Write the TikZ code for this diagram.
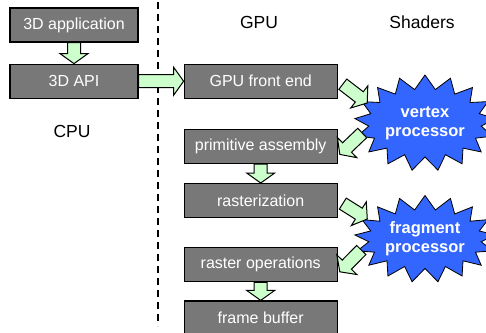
\documentclass[tikz,border=0pt]{standalone}
\usepackage{fontspec}
\setmainfont{Liberation Sans}
\usetikzlibrary{positioning,calc,shapes.symbols}

\definecolor{boxgray}{RGB}{120,120,120}
\definecolor{arrowgreen}{RGB}{204,255,204}
\definecolor{shaderblue}{RGB}{51,102,255}

\tikzset{
  stage/.style={draw,line width=1.2pt,fill=boxgray,text=white,minimum height=34pt,inner sep=2pt,font=\fontsize{16}{18}\selectfont},
  cpustage/.style={stage,minimum width=128pt},
  gpustage/.style={stage,minimum width=153pt},
  shader/.style={starburst,starburst points=17,starburst point height=14pt,random starburst=0,
    draw,line width=0.8pt,fill=shaderblue,text=white,align=center,inner sep=0pt,
    minimum width=121pt,minimum height=96pt,font=\fontsize{16.5}{19}\selectfont\bfseries},
  title/.style={font=\fontsize{17.5}{20}\selectfont},
  divider/.style={dashed,dash pattern=on 7pt off 5pt,line width=1.2pt},
  fat/.style={draw,line width=1pt,fill=arrowgreen,to path={
    let \p1=(\tikztostart), \p2=(\tikztotarget) in
    ($(\p1)!6.5pt!90:(\p2)$) --
    ($(\p2)!10pt!(\p1)!6.5pt!90:(\p2)$) --
    ($(\p2)!10pt!(\p1)!14pt!90:(\p2)$) --
    (\p2) --
    ($(\p2)!10pt!(\p1)!14pt!-90:(\p2)$) --
    ($(\p2)!10pt!(\p1)!6.5pt!-90:(\p2)$) --
    ($(\p1)!6.5pt!-90:(\p2)$) -- cycle}}
}

\begin{document}
\begin{tikzpicture}[x=1pt,y=-1pt]
    \useasboundingbox (0,0) rectangle (486,332);
    % CPU side
    \node[cpustage] (app) at (74,25) {3D application} ;
    \node[cpustage] (api) [below=21pt of app] {3D API} ;
    \node[title] (cpu) at (72,131) {CPU} ;
    \draw[divider] (158,2) -- (158,326);
    % GPU pipeline
    \node[gpustage] (front) [right=45pt of api] {GPU front end} ;
    \node[gpustage] (prim) [below=30pt of front] {primitive assembly} ;
    \node[gpustage] (raster) [below=19pt of prim] {rasterization} ;
    \node[gpustage] (rop) [below=29pt of raster] {raster operations} ;
    \node[gpustage] (fb) [below=18pt of rop] {frame buffer} ;
    \node[title] (gpu) at (259,22) {GPU} ;
    % shaders
    \node[title] (shaders) at (422,22) {Shaders} ;
    \node[shader] (vp) at (425,123) {vertex\\processor} ;
    \node[shader,minimum height=87pt] (fp) at (425,239) {fragment\\processor} ;
    % data flow
    \draw[fat] ([shift={(5,3)}]front.east) to ([shift={(5,-20)}]vp.west);
    \draw[fat] ([shift={(0,10)}]vp.west) to ([shift={(2,8)}]prim.east);
    \draw[fat] ([shift={(5,3)}]raster.east) to ([shift={(5,-20)}]fp.west);
    \draw[fat] ([shift={(-1,11)}]fp.west) to ([shift={(2,7)}]rop.east);
    \draw[fat] (app.south) to (api.north);
    \draw[fat] (api.east) to (front.west);
    \draw[fat] (prim.south) to (raster.north);
    \draw[fat] (rop.south) to (fb.north);
\end{tikzpicture}
\end{document}
